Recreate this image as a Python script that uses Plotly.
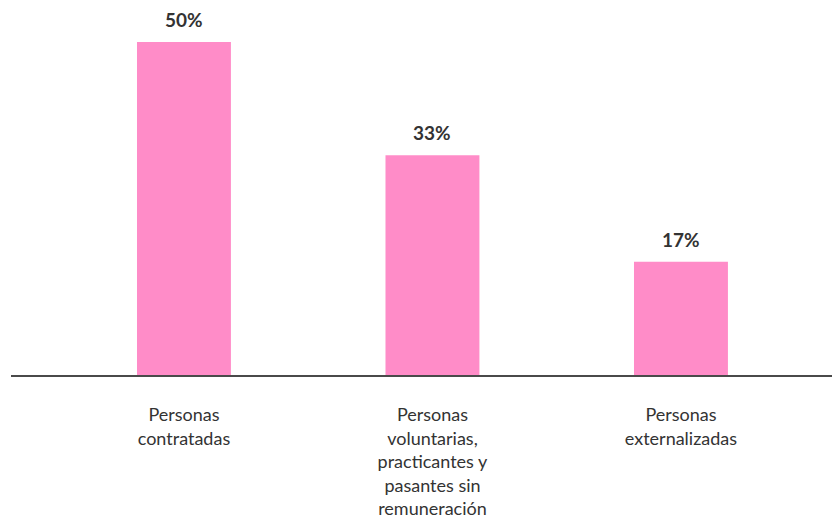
import plotly.graph_objects as go

CATEGORIES = [
    "Personas<br>contratadas",
    "Personas<br>voluntarias,<br>practicantes y<br>pasantes sin<br>remuneración",
    "Personas<br>externalizadas",
]
VALUES = [50, 33, 17]
LABELS = ["50%", "33%", "17%"]

PINK = "#FF8CC8"
TEXT = "#333333"

x = list(range(len(CATEGORIES)))

fig = go.Figure(
    go.Bar(
        x=x,
        y=VALUES,
        width=0.378,
        marker=dict(color=PINK, line=dict(width=0)),
        showlegend=False,
        hoverinfo="skip",
    )
)

# value labels above the bars
for xi, v, lab in zip(x, VALUES, LABELS):
    fig.add_annotation(
        x=xi, y=v, text=lab, showarrow=False,
        yanchor="bottom", yshift=9,
        font=dict(family="Lato", size=19, color=TEXT, weight="bold"),
    )

# page body adds 8px offset, so the figure is shrunk to fit the window
fig.update_layout(
    width=832,
    height=515,
    plot_bgcolor="#FFFFFF",
    paper_bgcolor="#FFFFFF",
    margin=dict(l=3, r=0, t=2, b=148),
    font=dict(family="Lato", size=18, color=TEXT),
    xaxis=dict(
        tickmode="array",
        tickvals=x,
        ticktext=CATEGORIES,
        range=[-0.696, 2.640],
        showline=True,
        linecolor="#4a4a4a",
        linewidth=1.5,
        showgrid=False,
        zeroline=False,
        ticks="",
        ticklabelstandoff=23,
        automargin=False,
    ),
    yaxis=dict(
        range=[0, 54.8],
        visible=False,
        showgrid=False,
        zeroline=False,
    ),
)

fig.write_html("out.html")
